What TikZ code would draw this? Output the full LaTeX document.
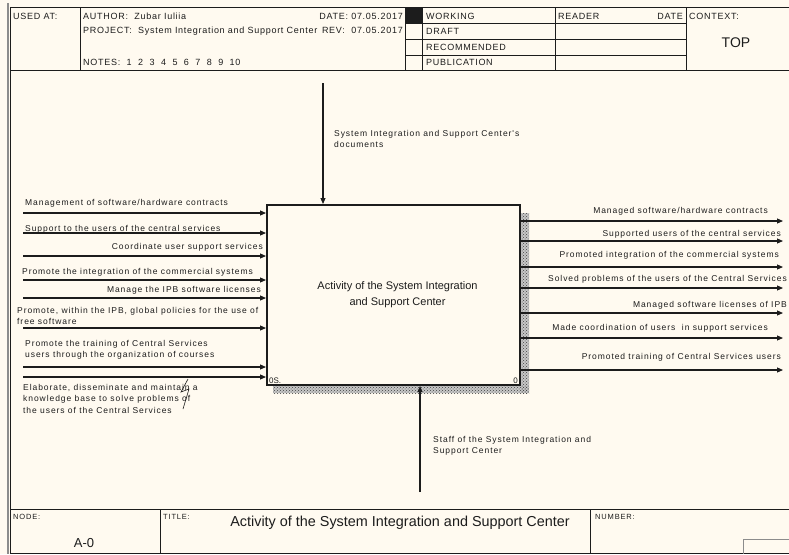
\documentclass[tikz,border=0pt]{standalone}
\usepackage{fontspec}
\setmainfont{Liberation Sans}
\newfontfamily\idefwide[LetterSpace=11]{Liberation Sans}
\newfontfamily\idefhead[LetterSpace=8]{Liberation Sans}
\usetikzlibrary{arrows.meta,positioning,calc,patterns}
\definecolor{paper}{HTML}{FFFAF0}
\definecolor{ink}{HTML}{1C1C1C}
\definecolor{rim}{HTML}{8C8C8C}

\begin{document}
\begin{tikzpicture}[x=1pt,y=-1pt,>={Triangle[length=6pt,width=5pt]},
    rule/.style={ink,line width=0.9pt},
    hdr/.style={font=\idefhead\fontsize{9}{10}\selectfont,text=ink,inner sep=0pt},
    tiny/.style={font=\idefwide\fontsize{7.5}{8}\selectfont,text=ink,inner sep=0pt,anchor=base west},
    lbl/.style={font=\idefwide\fontsize{8.5}{11.4}\selectfont,text=ink,inner sep=0pt,align=left},
    flow/.style={->,ink,line width=1.1pt}]
  \useasboundingbox[fill=paper] (0,0) rectangle (789,554);
  % sheet frame
  \draw[rim,line width=2pt] (7.5,3) -- (7.5,554);
  \draw[rule] (10,7) -- (789,7);
  \draw[rule] (10,7) -- (10,554);
  \draw[rule] (10,70) -- (789,70);
  \draw[rule] (10,509) -- (789,509);
  \draw[rule] (10,553.5) -- (789,553.5);
  % header
  \foreach \x in {80,405,422,555,686} \draw[rule] (\x,7) -- (\x,70);
  \foreach \y in {23,39,55} \draw[rule] (405,\y) -- (686,\y);
  \fill[ink] (405,7) rectangle (422,23);
  \node[hdr,anchor=base west] (usedat) at (13,19) {USED AT:};
  \node[hdr,anchor=base west] (author) at (83,19) {AUTHOR:\ \ Zubar Iuliia};
  \node[hdr,anchor=base east] (datelbl) at (403,19) {DATE: 07.05.2017};
  \node[hdr,anchor=base west] (project) at (83,33) {PROJECT:\ \ System Integration and Support Center};
  \node[hdr,anchor=base east] (revlbl) at (403,33) {REV:\ \ 07.05.2017};
  \node[hdr,anchor=base west] (notes) at (83,65) {NOTES:\ \ 1\ \ 2\ \ 3\ \ 4\ \ 5\ \ 6\ \ 7\ \ 8\ \ 9\ \ 10};
  \node[hdr,anchor=base west] (working) at (426,19) {WORKING};
  \node[hdr,anchor=base west] (draft) at (426,34) {DRAFT};
  \node[hdr,anchor=base west] (recommended) at (426,50) {RECOMMENDED};
  \node[hdr,anchor=base west] (publication) at (426,65) {PUBLICATION};
  \node[hdr,anchor=base west] (reader) at (558,19) {READER};
  \node[hdr,anchor=base east] (readdate) at (683,19) {DATE};
  \node[hdr,anchor=base west] (context) at (689,19) {CONTEXT:};
  \node[font=\fontsize{14}{16}\selectfont,text=ink,inner sep=0pt,anchor=base] (top) at (736,47) {TOP};
  % activity box and its shadow
  \fill[black!22] (521,213) rectangle (529,393) (273,386) rectangle (529,393);
  \fill[pattern=crosshatch dots,pattern color=black!75] (521,213) rectangle (529,393);
  \fill[pattern=crosshatch dots,pattern color=black!75] (273,386) rectangle (529,393);
  \node[draw=ink,line width=2pt,fill=paper,minimum width=253pt,minimum height=180pt,
        font=\fontsize{11}{16}\selectfont,text=ink,align=center] (act) at (393.5,295)
        {\hspace*{8pt}Activity of the System Integration\\\hspace*{8pt}and Support Center};
  \node[tiny,font=\fontsize{8}{9}\selectfont] (actid) at (269,383) {0S.};
  \node[tiny,font=\fontsize{8}{9}\selectfont,anchor=base east] (actnum) at (518,383) {0};
  % control and mechanism
  \coordinate (ctl) at (323,83);
  \draw[flow] (ctl) -- (ctl |- act.north);
  \node[lbl,anchor=north west] (ctllbl) at (334,130) {System Integration and Support Center's\\documents};
  \coordinate (mech) at (420,492);
  \draw[flow] (mech) -- (mech |- act.south);
  \node[lbl,anchor=north west] (mechlbl) at (433,436) {Staff of the System Integration and\\Support Center};
  % inputs
  \foreach \i/\y in {1/213,2/233,3/256,4/280,5/298,6/328,7/367,8/377}{
    \coordinate (in\i) at (23,\y);
    \draw[flow] (in\i) -- (in\i -| act.west);}
  \node[lbl,anchor=base west] (inlbl1) at (25,205) {Management of software/hardware contracts};
  \node[lbl,anchor=base west] (inlbl2) at (25,231) {Support to the users of the central services};
  \node[lbl,anchor=base east] (inlbl3) at (263,249) {Coordinate user support services};
  \node[lbl,anchor=base west] (inlbl4) at (22,274) {Promote the integration of the commercial systems};
  \node[lbl,anchor=base east] (inlbl5) at (261,292) {Manage the IPB software licenses};
  \node[lbl,anchor=north west] (inlbl6) at (17,307) {Promote, within the IPB, global policies for the use of\\free software};
  \node[lbl,anchor=north west] (inlbl7) at (25,340) {Promote the training of Central Services\\users through the organization of courses};
  \node[lbl,anchor=north west] (inlbl8) at (23,384) {Elaborate, disseminate and maintain a\\knowledge base to solve problems of\\the users of the Central Services};
  \draw[ink,line width=0.6pt] (188,379) -- (181,392) -- (189,389) -- (183,409);
  % outputs
  \foreach \i/\y in {1/221,2/241,3/267,4/288,5/313,6/338,7/370}{
    \coordinate (out\i) at (783,\y);
    \draw[flow] (act.east |- out\i) -- (out\i);}
  \node[lbl,anchor=base east] (outlbl1) at (768,213) {Managed software/hardware contracts};
  \node[lbl,anchor=base east] (outlbl2) at (781,236) {Supported users of the central services};
  \node[lbl,anchor=base east] (outlbl3) at (779,257) {Promoted integration of the commercial systems};
  \node[lbl,anchor=base east] (outlbl4) at (787,281) {Solved problems of the users of the Central Services};
  \node[lbl,anchor=base east] (outlbl5) at (787,307) {Managed software licenses of IPB};
  \node[lbl,anchor=base east] (outlbl6) at (768,330) {Made coordination of users\ \ in support services};
  \node[lbl,anchor=base east] (outlbl7) at (781,359) {Promoted training of Central Services users};
  % footer
  \draw[rule] (160,509) -- (160,554);
  \draw[rule] (590,509) -- (590,554);
  \draw[rim,line width=1pt] (743,554) -- (743,539) -- (789,539);
  \node[tiny] (nodelbl) at (13,519) {NODE:};
  \node[font=\fontsize{13}{15}\selectfont,text=ink,inner sep=0pt,anchor=base] (nodeid) at (84,547) {A-0};
  \node[tiny] (titlelbl) at (163,519) {TITLE:};
  \node[font=\fontsize{14.4}{16}\selectfont,text=ink,inner sep=0pt,anchor=base] (titletext) at (400,526) {Activity of the System Integration and Support Center};
  \node[tiny] (numberlbl) at (595,519) {NUMBER:};
\end{tikzpicture}
\end{document}
